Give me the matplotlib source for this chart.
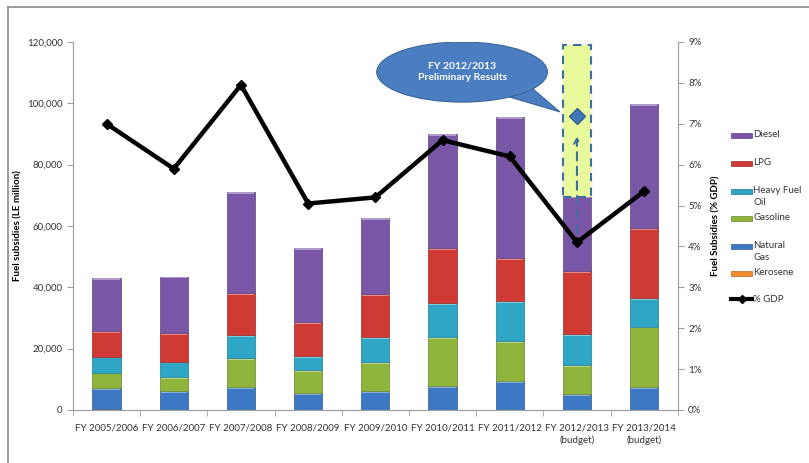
import matplotlib
matplotlib.use('Agg')
import matplotlib.pyplot as plt
import numpy as np
from matplotlib.patches import Ellipse, Polygon, Rectangle
from matplotlib.lines import Line2D
from matplotlib.ticker import FuncFormatter
import matplotlib.colors as mcolors

plt.rcParams['font.family'] = ['Lato', 'DejaVu Sans']

# Data (LE million, % GDP)
years = ['FY 2005/2006', 'FY 2006/2007', 'FY 2007/2008', 'FY 2008/2009', 'FY 2009/2010',
         'FY 2010/2011', 'FY 2011/2012', 'FY 2012/2013\n(budget)', 'FY 2013/2014\n(budget)']
kerosene = [400, 150, 150, 150, 150, 150, 150, 150, 150]
natural_gas = [6800, 6150, 7450, 5450, 6050, 7750, 9350, 4950, 7450]
gasoline = [5000, 4400, 9200, 7400, 9300, 15800, 13100, 9600, 19600]
heavy_fuel_oil = [5200, 5100, 7700, 4600, 8200, 11100, 13000, 10000, 9400]
lpg = [8400, 9400, 13500, 11200, 14100, 17900, 13900, 20600, 22800]
diesel = [17200, 18300, 33000, 23900, 24800, 37300, 45900, 24300, 40300]
gdp_pct = [7.0, 5.9, 7.95, 5.05, 5.2, 6.6, 6.2, 4.1, 5.35]

prelim_idx = 7
prelim_total = 119000
prelim_gdp = 7.2

series = [
    ('Kerosene', kerosene, '#F08C2E'),
    ('Natural\nGas', natural_gas, '#3C78C3'),
    ('Gasoline', gasoline, '#8FB43C'),
    ('Heavy Fuel\nOil', heavy_fuel_oil, '#30A6C6'),
    ('LPG', lpg, '#CF3B34'),
    ('Diesel', diesel, '#7A57A6'),
]


def darker(c, f=0.75):
    return mcolors.to_hex(np.array(mcolors.to_rgb(c)) * f)


fig = plt.figure(figsize=(8.09, 4.63), dpi=100)
ax = fig.add_axes([0.0902, 0.1145, 0.7476, 0.7948])
ax2 = ax.twinx()

x = np.arange(len(years))
bar_width = 0.42
bottom = np.zeros(len(years))
for name, vals, col in series:
    vals = np.array(vals, dtype=float)
    ax.bar(x, vals, bar_width, bottom=bottom, color=col, edgecolor=darker(col), linewidth=0.5, zorder=2)
    # lighter highlight strip on top of each segment
    light = np.array(mcolors.to_rgb(col)) * 0.6 + 0.4
    hl = np.minimum(vals, 600)
    ax.bar(x, hl, bar_width * 0.94, bottom=bottom + vals - hl, color=light, linewidth=0, zorder=2)
    bottom += vals

# preliminary results box
tot = bottom[prelim_idx]
ax.add_patch(Rectangle((prelim_idx - bar_width / 2, tot), bar_width, prelim_total - tot,
                       facecolor='#E8FA9C', edgecolor='#3F6F9E', linestyle=(0, (4, 3)),
                       linewidth=1.5, zorder=3))

# callout
ax.add_patch(Ellipse((5.29, 110200), 2.54, 19600, facecolor='#4A7EC0', edgecolor='#3A659A',
                     linewidth=0.8, zorder=4))
ax.add_patch(Polygon([(5.93, 102500), (6.30, 105500), (6.745, 97200)], closed=True,
                     facecolor='#4A7EC0', edgecolor='#3A659A', linewidth=0.8, zorder=3.9))
ax.add_patch(Polygon([(5.90, 103200), (6.33, 106300), (6.28, 104000)], closed=True,
                     facecolor='#4A7EC0', edgecolor='none', zorder=4.1))
ax.text(5.29, 110200, 'FY 2012/2013\nPreliminary Results', ha='center', va='center',
        color='white', fontsize=7.5, fontweight='bold', zorder=5, linespacing=1.3)

ax.set_xlim(-0.5, len(years) - 0.5)
ax.set_ylim(0, 120000)
ax.set_yticks(np.arange(0, 120001, 20000))
ax.yaxis.set_major_formatter(FuncFormatter(lambda v, p: f'{int(v):,}'))
ax.set_xticks(x)
ax.set_xticklabels(years, fontsize=7, color='#333333', linespacing=1.3)
ax.set_xticks(np.arange(-0.5, len(years), 1), minor=True)
ax.tick_params(axis='x', which='major', length=0, pad=10)
ax.tick_params(axis='x', which='minor', length=4, color='#A0A0A0', direction='out')
ax.tick_params(axis='y', labelsize=7, length=4, direction='out')
ax.set_ylabel('Fuel subsidies (LE million)', fontsize=7, fontweight='bold', labelpad=3)

ax2.set_ylim(0, 9)
ax2.set_yticks(np.arange(0, 10, 1))
ax2.yaxis.set_major_formatter(FuncFormatter(lambda v, p: f'{int(v)}%'))
ax2.tick_params(axis='y', labelsize=7, length=4, direction='out')
ax2.set_ylabel('Fuel Subsidies (% GDP)', fontsize=7, fontweight='bold', labelpad=7)

for a in (ax, ax2):
    a.spines['top'].set_visible(False)
    for s in ('left', 'right', 'bottom'):
        a.spines[s].set_color('#A0A0A0')
        a.spines[s].set_linewidth(0.8)
    a.tick_params(axis='y', color='#A0A0A0')
    for lab in a.get_yticklabels():
        lab.set_color('#333333')

ax2.set_zorder(ax.get_zorder() + 1)
ax2.patch.set_visible(False)

ax2.plot(x, gdp_pct, color='black', linewidth=3.2, marker='D', markersize=5,
         zorder=5, solid_joinstyle='miter')

# preliminary % GDP
ax2.annotate('', xy=(prelim_idx, prelim_gdp - 0.45), xytext=(prelim_idx, gdp_pct[prelim_idx] + 0.15),
             arrowprops=dict(arrowstyle='->,head_length=0.35,head_width=0.2', color='#3F6F9E',
                             linestyle=(0, (4, 3)), linewidth=1.5), zorder=6)
ax2.plot(prelim_idx, prelim_gdp, marker='D', markersize=8, color='#3F78B8',
         markeredgecolor='#355F90', zorder=6)

# legend, drawn by hand to keep the Excel layout (handle next to first text line)
W, H = 809.0, 463.0
legend_rows = [135, 163, 191, 218, 246, 273]
for (name, vals, col), py in zip(series[::-1], legend_rows):
    fig.add_artist(Rectangle((731 / W, 1 - (py + 2.5) / H), 21 / W, 5 / H,
                             facecolor=col, edgecolor=darker(col), linewidth=0.5,
                             transform=fig.transFigure))
    fig.text(753 / W, 1 - (py - 5) / H, name, fontsize=7, color='#333333', va='top',
             ha='left', linespacing=1.45)
fig.add_artist(Line2D([731 / W, 752 / W], [1 - 299 / H] * 2, color='black', linewidth=3,
                      transform=fig.transFigure))
fig.add_artist(Line2D([741.5 / W], [1 - 299 / H], color='black', marker='D', markersize=4,
                      linestyle='none', transform=fig.transFigure))
fig.text(753 / W, 1 - 299 / H, '% GDP', fontsize=7, color='#333333', va='center', ha='left')

# outer frame of the chart
fig.add_artist(Line2D([0.0099, 1.0], [0.9855, 0.9855], color='#8C8C8C', linewidth=1.2))
fig.add_artist(Line2D([0.0099, 0.0099], [0.0, 0.9855], color='#8C8C8C', linewidth=1.2))

fig.savefig('out.png', dpi=100)
